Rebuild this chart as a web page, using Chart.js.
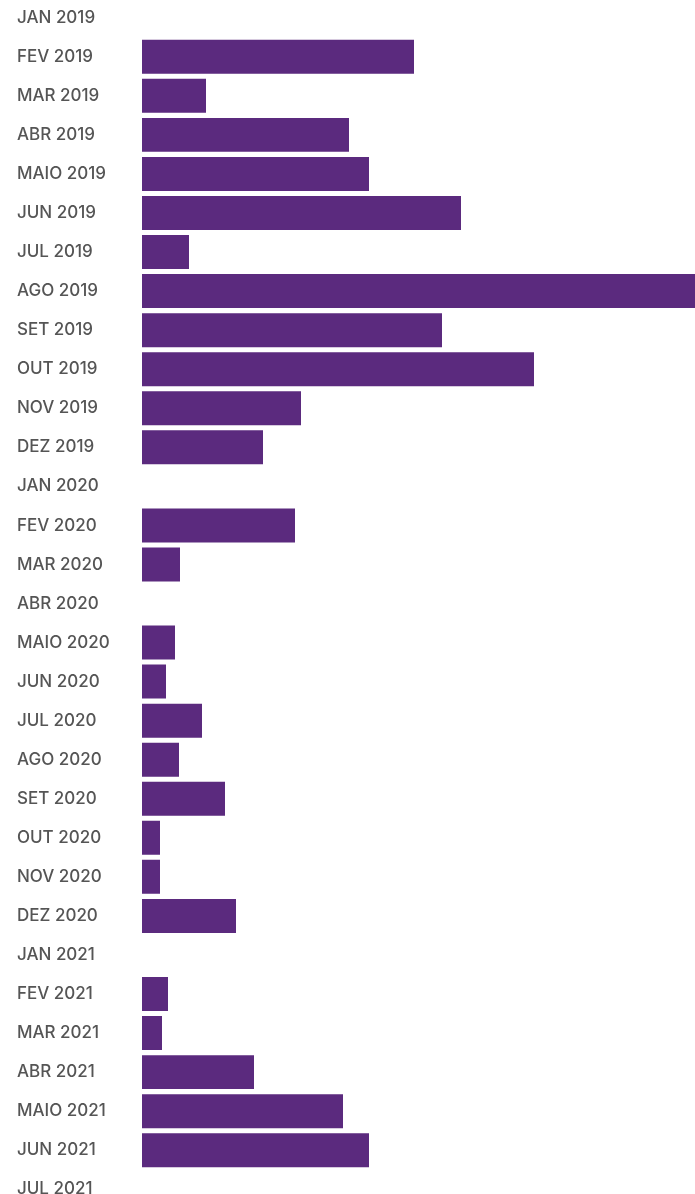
<!DOCTYPE html>
<html>
<head>
<meta charset="utf-8">
<script src="https://cdn.jsdelivr.net/npm/chart.js@4.4.1/dist/chart.umd.min.js"></script>
<style>
  html, body { margin: 0; padding: 0; background: #ffffff; overflow: hidden; }
  body { width: 695px; height: 1194px; position: relative; }
  #wrap { position: absolute; left: 0; top: -12px; width: 695px; height: 1231px; }
</style>
</head>
<body>
<div id="wrap"><canvas id="c"></canvas></div>
<script>
const categories = [
  "JAN 2019","FEV 2019","MAR 2019","ABR 2019","MAIO 2019","JUN 2019","JUL 2019","AGO 2019",
  "SET 2019","OUT 2019","NOV 2019","DEZ 2019","JAN 2020","FEV 2020","MAR 2020","ABR 2020",
  "MAIO 2020","JUN 2020","JUL 2020","AGO 2020","SET 2020","OUT 2020","NOV 2020","DEZ 2020",
  "JAN 2021","FEV 2021","MAR 2021","ABR 2021","MAIO 2021","JUN 2021","JUL 2021"
];
const values = [
  0, 272, 64, 207, 227, 319, 47, 553,
  300, 392, 159, 121, 0, 153, 38, 0,
  33, 24, 60, 37, 83, 18, 18, 94,
  0, 26, 20, 112, 201, 227, 0
];
const xMax = 553;

new Chart(document.getElementById('c'), {
  type: 'bar',
  data: {
    labels: categories,
    datasets: [{
      data: values,
      backgroundColor: '#5b2a7e',
      borderWidth: 0,
      categoryPercentage: 0.87,
      barPercentage: 1.0
    }]
  },
  options: {
    indexAxis: 'y',
    responsive: true,
    maintainAspectRatio: false,
    animation: false,
    layout: { padding: { left: 17, right: 0, top: 0, bottom: 0 } },
    plugins: { legend: { display: false }, tooltip: { enabled: false } },
    scales: {
      x: { display: false, min: 0, max: xMax },
      y: {
        grid: { display: false, drawTicks: false },
        border: { display: false },
        afterFit: (s) => { s.width = 125; },
        ticks: {
          crossAlign: 'far',
          color: '#555555',
          padding: 0,
          font: { family: 'Inter', size: 17, weight: '500' }
        }
      }
    }
  }
});
</script>
</body>
</html>
